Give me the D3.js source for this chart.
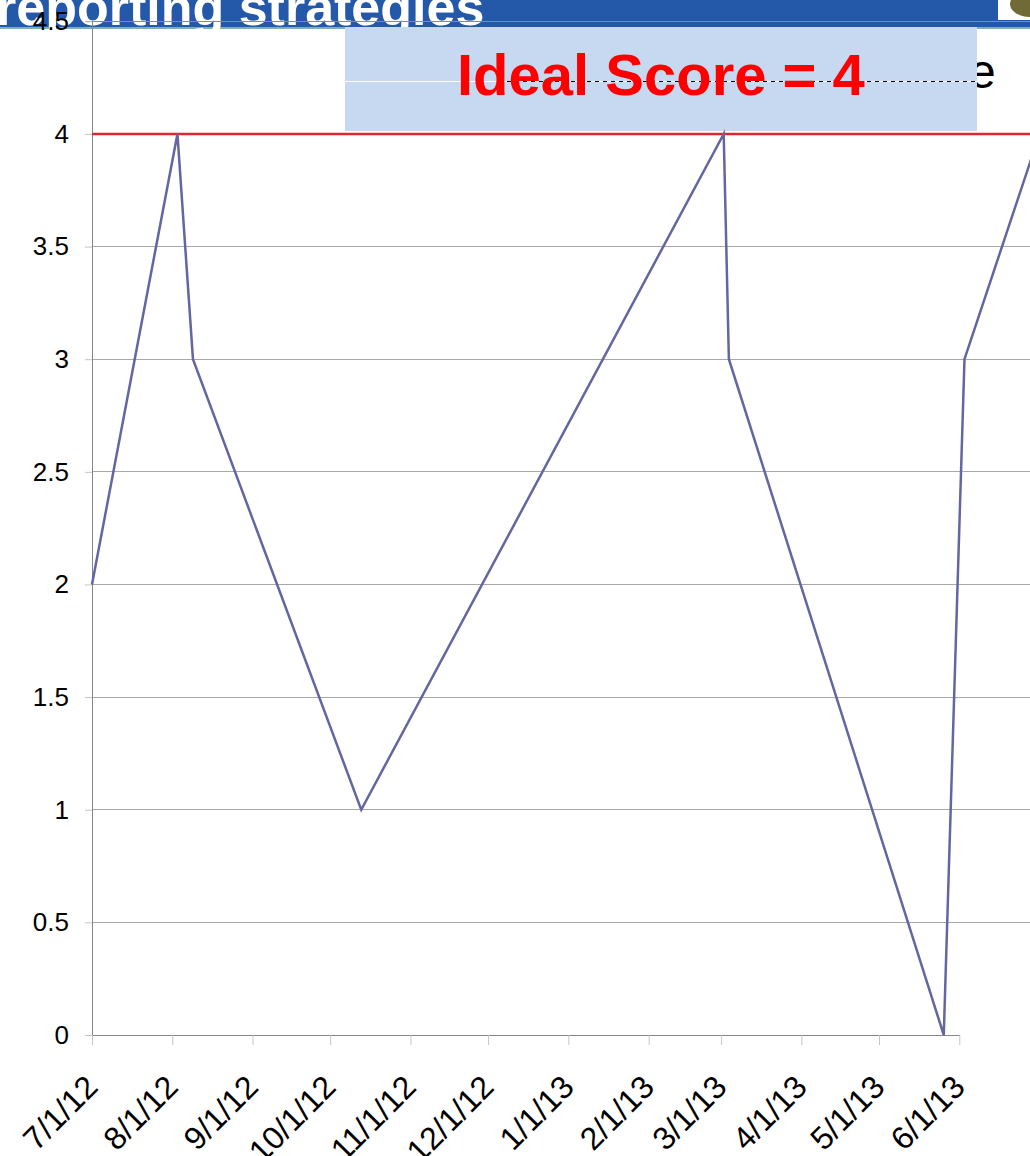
<!DOCTYPE html>
<html>
<head>
<meta charset="utf-8">
<script src="https://cdn.jsdelivr.net/npm/d3@7"></script>
<style>
  html, body { margin: 0; padding: 0; background: #fff; }
  svg { display: block; font-family: "Liberation Sans", Arial, sans-serif; }
</style>
</head>
<body>
<svg id="chart" width="1030" height="1156"></svg>
<script>
// Data
const pointDates = ["2012-07-01", "2012-08-03", "2012-08-09", "2012-10-13", "2013-03-02",
                    "2013-03-04", "2013-05-26", "2013-06-03", "2013-07-02"];
const pointScores = [2, 4, 3, 1, 4, 3, 0, 3, 4];
const tickDates = ["2012-07-01", "2012-08-01", "2012-09-01", "2012-10-01", "2012-11-01", "2012-12-01",
                   "2013-01-01", "2013-02-01", "2013-03-01", "2013-04-01", "2013-05-01", "2013-06-01"];
const yTicks = [0, 0.5, 1, 1.5, 2, 2.5, 3, 3.5, 4, 4.5];
const idealScore = 4;
const headerTitle = "reporting strategies";
const calloutText = "Ideal Score = 4";

const parse = d3.timeParse("%Y-%m-%d");
const data = pointDates.map((d, i) => ({ date: parse(d), score: pointScores[i] }));

const svg = d3.select("#chart");
const W = 1030;

const x = d3.scaleTime()
  .domain([parse("2012-07-01"), parse("2013-06-01")])
  .range([92, 959.3]);
const y = d3.scaleLinear()
  .domain([0, 4.5])
  .range([1035, 21.3]);

// gridlines
svg.append("g")
  .selectAll("line")
  .data(yTicks.filter(d => d > 0))
  .join("line")
  .attr("x1", 92).attr("x2", W)
  .attr("y1", d => y(d)).attr("y2", d => y(d))
  .attr("stroke", "#a8a8a8")
  .attr("stroke-width", 1)
  .attr("shape-rendering", "crispEdges");

// header bar (slide title behind the chart)
const header = svg.append("g");
header.append("rect")
  .attr("x", 0).attr("y", 0).attr("width", W).attr("height", 27)
  .attr("fill", "#2359a8");
header.append("rect")
  .attr("x", 0).attr("y", 27).attr("width", W).attr("height", 2)
  .attr("fill", "#7ab5a2");
header.append("text")
  .attr("x", -4).attr("y", 25)
  .attr("fill", "#fff")
  .attr("font-size", 52)
  .attr("font-weight", "bold")
  .text(headerTitle);
header.append("rect")
  .attr("x", 998).attr("y", -2).attr("width", 40).attr("height", 22)
  .attr("fill", "#fff");
header.append("ellipse")
  .attr("cx", 1030).attr("cy", 4).attr("rx", 20).attr("ry", 13)
  .attr("fill", "#6f6a36");

// gridline at 4.5 over the header
svg.append("line")
  .attr("x1", 92).attr("x2", W)
  .attr("y1", y(4.5)).attr("y2", y(4.5))
  .attr("stroke", "#8a8a8a")
  .attr("shape-rendering", "crispEdges");

// y axis
const yAxis = svg.append("g")
  .attr("transform", "translate(92,0)")
  .call(d3.axisLeft(y).tickValues(yTicks).tickSize(7).tickPadding(16).tickFormat(d3.format("")));
yAxis.select(".domain").attr("stroke", "#868686").attr("shape-rendering", "crispEdges");
yAxis.selectAll(".tick line").attr("stroke", "#c4c4c4");
yAxis.selectAll(".tick text")
  .attr("font-size", 26)
  .attr("font-family", "Liberation Sans, Arial, sans-serif")
  .attr("fill", "#000");

// x axis
const xAxis = svg.append("g")
  .attr("transform", "translate(0,1035)")
  .call(d3.axisBottom(x).tickValues(tickDates.map(parse)).tickSize(10).tickSizeOuter(0)
    .tickFormat(d3.timeFormat("%-m/%-d/%y")));
xAxis.select(".domain").attr("stroke", "#868686").attr("shape-rendering", "crispEdges");
xAxis.selectAll(".tick line").attr("stroke", "#c4c4c4");
xAxis.selectAll(".tick text")
  .attr("font-size", 32)
  .attr("font-family", "Liberation Sans, Arial, sans-serif")
  .attr("fill", "#000")
  .attr("text-anchor", "end")
  .attr("dy", 0)
  .attr("y", 0)
  .attr("transform", "translate(7,54) rotate(-45)");

// partly hidden slide text behind the callout
svg.append("text")
  .attr("x", 969).attr("y", 88)
  .attr("font-size", 48)
  .attr("fill", "#000")
  .text("e");

// callout box
svg.append("rect")
  .attr("x", 345).attr("y", 27).attr("width", 632).attr("height", 104)
  .attr("fill", "#c6d9f0");
svg.append("line")
  .attr("x1", 345).attr("x2", 977).attr("y1", 81.5).attr("y2", 81.5)
  .attr("stroke", "#fff").attr("stroke-width", 1);
svg.append("line")
  .attr("x1", 507).attr("x2", 978).attr("y1", 81.5).attr("y2", 81.5)
  .attr("stroke", "#000").attr("stroke-width", 1)
  .attr("stroke-dasharray", "4,4");
svg.append("text")
  .attr("x", 457).attr("y", 95)
  .attr("font-size", 58)
  .attr("font-weight", "bold")
  .attr("fill", "#ff0000")
  .text(calloutText);

// ideal score line
svg.append("line")
  .attr("x1", 92).attr("x2", W)
  .attr("y1", y(idealScore)).attr("y2", y(idealScore))
  .attr("stroke", "#e2262f")
  .attr("stroke-width", 2.5);

// score series
const line = d3.line()
  .x(d => x(d.date))
  .y(d => y(d.score));
svg.append("path")
  .datum(data)
  .attr("d", line)
  .attr("fill", "none")
  .attr("stroke", "#6366a0")
  .attr("stroke-width", 2.5)
  .attr("stroke-linejoin", "miter");
</script>
</body>
</html>
